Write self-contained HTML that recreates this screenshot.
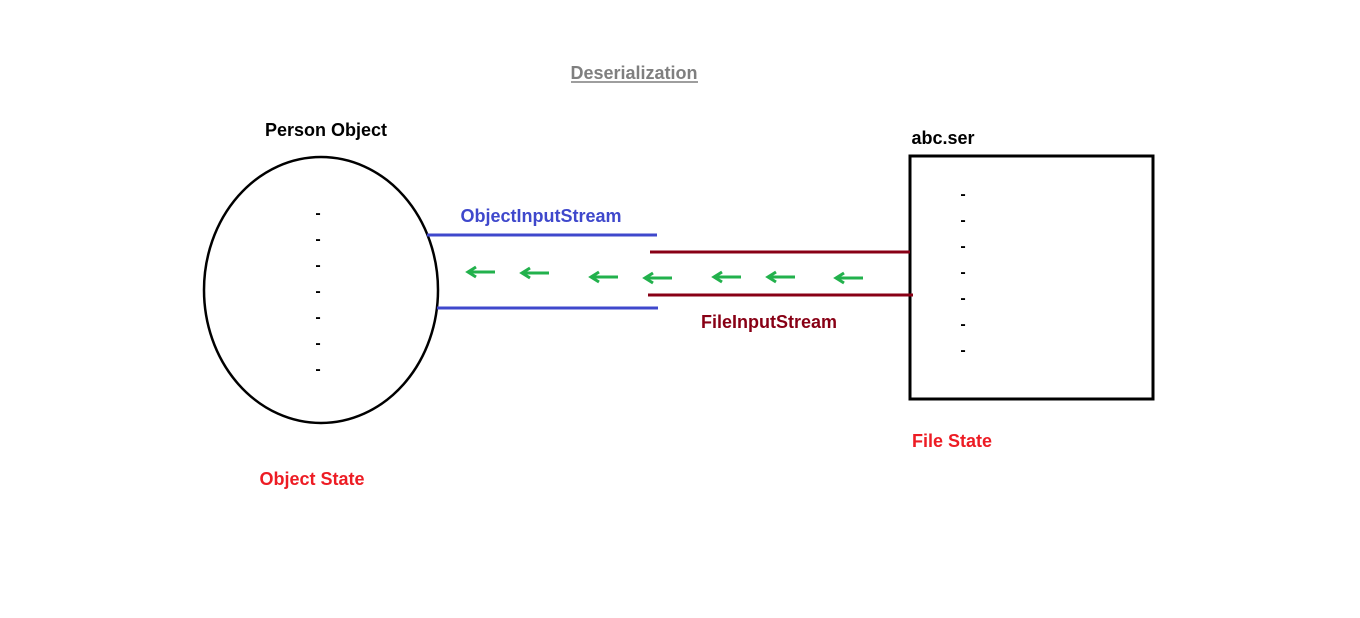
<!DOCTYPE html>
<html><head><style>
body{margin:0;width:1360px;height:613px;background:#fff;overflow:hidden}
</style></head><body>
<svg width="1360" height="613" xmlns="http://www.w3.org/2000/svg" font-family="Liberation Sans, sans-serif" font-weight="bold" font-size="18">
<text x="634" y="79" fill="#7f7f7f" text-anchor="middle">Deserialization</text>
<line x1="571" y1="82" x2="698" y2="82" stroke="#7f7f7f" stroke-width="1.5"/>
<text x="326" y="136" fill="#000" text-anchor="middle">Person Object</text>
<ellipse cx="321" cy="290" rx="117" ry="133" fill="none" stroke="#000" stroke-width="2.5"/>
<g fill="#000" font-size="16" text-anchor="middle">
<text x="318" y="218">-</text><text x="318" y="244">-</text><text x="318" y="270">-</text><text x="318" y="296">-</text><text x="318" y="322">-</text><text x="318" y="348">-</text><text x="318" y="374">-</text>
<text x="963" y="199">-</text><text x="963" y="225">-</text><text x="963" y="251">-</text><text x="963" y="277">-</text><text x="963" y="303">-</text><text x="963" y="329">-</text><text x="963" y="355">-</text>
</g>
<text x="943" y="144" fill="#000" text-anchor="middle">abc.ser</text>
<rect x="910" y="156" width="243" height="243" fill="none" stroke="#000" stroke-width="3"/>
<text x="541" y="222" fill="#3f48cc" text-anchor="middle">ObjectInputStream</text>
<line x1="427" y1="235" x2="657" y2="235" stroke="#3f48cc" stroke-width="3"/>
<line x1="437" y1="308" x2="658" y2="308" stroke="#3f48cc" stroke-width="3"/>
<line x1="650" y1="252" x2="910" y2="252" stroke="#880015" stroke-width="3"/>
<line x1="648" y1="295" x2="913" y2="295" stroke="#880015" stroke-width="3"/>
<text x="769" y="328" fill="#880015" text-anchor="middle">FileInputStream</text>
<g stroke="#22b14c" stroke-width="3" fill="none">
<path d="M495 272H469M476 267L468 272L476 277"/>
<path d="M549 273H523M530 268L522 273L530 278"/>
<path d="M618 277H592M599 272L591 277L599 282"/>
<path d="M672 278H646M653 273L645 278L653 283"/>
<path d="M741 277H715M722 272L714 277L722 282"/>
<path d="M795 277H769M776 272L768 277L776 282"/>
<path d="M863 278H837M844 273L836 278L844 283"/>
</g>
<text x="312" y="485" fill="#ed1c24" text-anchor="middle">Object State</text>
<text x="952" y="447" fill="#ed1c24" text-anchor="middle">File State</text>
</svg>
</body></html>
